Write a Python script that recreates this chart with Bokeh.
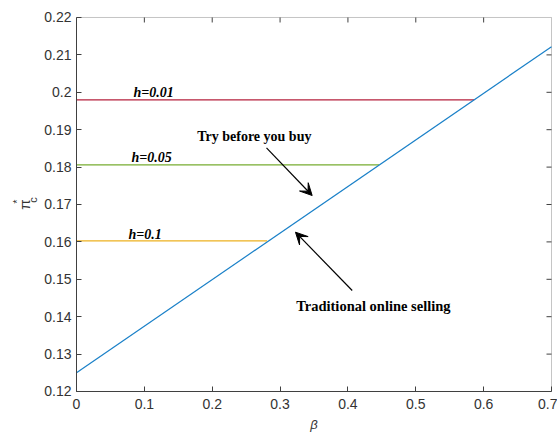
from math import pi
from bokeh.plotting import figure
from bokeh.models import FixedTicker, Label, Arrow, VeeHead, Range1d, BoxAnnotation
from bokeh.embed import file_html
from bokeh.resources import INLINE

# ---- data ----
beta = [0.0, 0.7]
pi_traditional = [0.125, 0.2122]
h_labels = ["h=0.01", "h=0.05", "h=0.1"]
pi_tbyb = [0.1980, 0.1806, 0.1603]
beta_end = [0.586, 0.446, 0.281]
x_ticks = [0.0, 0.1, 0.2, 0.3, 0.4, 0.5, 0.6, 0.7]
x_tick_labels = ["0", "0.1", "0.2", "0.3", "0.4", "0.5", "0.6", "0.7"]
y_ticks = [0.12, 0.13, 0.14, 0.15, 0.16, 0.17, 0.18, 0.19, 0.20, 0.21, 0.22]
y_tick_labels = ["0.12", "0.13", "0.14", "0.15", "0.16", "0.17", "0.18", "0.19", "0.2", "0.21", "0.22"]

h_colors = ["#B5213C", "#77AC30", "#EDB120"]
blue = "#1A80C8"
axis_col = "#404040"
tick_font = "Liberation Sans"
serif = "Liberation Serif"

x0, x1 = x_ticks[0], x_ticks[-1]
y0, y1 = y_ticks[0], y_ticks[-1]

# the frame covers the whole canvas; the axes box is placed inside it
p = figure(width=557, height=432, output_backend="svg", toolbar_location=None,
           x_range=Range1d(-0.11200, 0.70884), y_range=Range1d(0.109037, 0.224545),
           min_border=0, min_border_left=0, min_border_right=0,
           min_border_top=0, min_border_bottom=0)
p.background_fill_color = "white"
p.border_fill_color = "white"
p.outline_line_color = None
p.grid.visible = False

x_axis = p.below[0]
y_axis = p.left[0]
x_axis.fixed_location = y0
x_axis.bounds = (x0, x1)
x_axis.ticker = FixedTicker(ticks=x_ticks)
x_axis.major_label_overrides = {t: l for t, l in zip(x_ticks, x_tick_labels)}
x_axis.major_label_standoff = 8
y_axis.fixed_location = x0
y_axis.bounds = (y0, y1)
y_axis.ticker = FixedTicker(ticks=y_ticks)
y_axis.major_label_overrides = {t: l for t, l in zip(y_ticks, y_tick_labels)}
y_axis.major_label_standoff = 5

for ax in [x_axis, y_axis]:
    ax.axis_line_color = axis_col
    ax.axis_line_width = 1
    ax.major_tick_line_color = axis_col
    ax.major_tick_in = 5
    ax.major_tick_out = 0
    ax.minor_tick_line_color = None
    ax.major_label_text_font = tick_font
    ax.major_label_text_font_size = "14px"
    ax.major_label_text_color = "#333333"

# box around the axes
p.add_layout(BoxAnnotation(left=x0, right=x1, bottom=y0, top=y1, fill_color=None,
                           line_color=axis_col, line_width=1, level="underlay"))
# inward ticks on the top and right edges of the box
p.ray(x=x_ticks[1:-1], y=[y1] * (len(x_ticks) - 2), length=5, length_units="screen",
      angle=-pi / 2, line_color=axis_col, line_width=1)
p.ray(x=[x1] * (len(y_ticks) - 2), y=y_ticks[1:-1], length=5, length_units="screen",
      angle=pi, line_color=axis_col, line_width=1)

# lines
for i in range(len(h_labels)):
    p.line([beta[0], beta_end[i]], [pi_tbyb[i], pi_tbyb[i]], line_color=h_colors[i], line_width=1.2)
p.line(beta, pi_traditional, line_color=blue, line_width=1.2)

# h labels
h_pos = [(0.084, 0.19995), (0.0811, 0.18265), (0.0766, 0.16198)]
for (lx, ly), txt in zip(h_pos, h_labels):
    p.add_layout(Label(x=lx, y=ly, text=txt, text_font=serif, text_font_style="bold italic",
                       text_font_size="14px", text_color="black", text_baseline="alphabetic"))

p.add_layout(Label(x=0.1779, y=0.18826, text="Try before you buy", text_font=serif,
                   text_font_style="bold", text_font_size="14px", text_color="black",
                   text_baseline="alphabetic"))
p.add_layout(Label(x=0.3237, y=0.14299, text="Traditional online selling", text_font=serif,
                   text_font_style="bold", text_font_size="14.5px", text_color="black",
                   text_baseline="alphabetic"))

p.add_layout(Arrow(end=VeeHead(size=12, fill_color="black", line_color="black"),
                   x_start=0.28, y_start=0.18516, x_end=0.3473, y_end=0.1724,
                   line_color="black", line_width=1.2))
p.add_layout(Arrow(end=VeeHead(size=12, fill_color="black", line_color="black"),
                   x_start=0.4063, y_start=0.147, x_end=0.3227, y_end=0.1626,
                   line_color="black", line_width=1.2))

# axis labels
p.add_layout(Label(x=0.35, y=0.11118, text="β", text_font=tick_font, text_font_style="italic",
                   text_font_size="13px", text_color="#333333", text_align="center",
                   text_baseline="middle"))
p.add_layout(Label(x=-0.07663, y=0.170, text="π", text_font=tick_font, angle=pi / 2,
                   text_font_size="15px", text_color="#333333", text_align="center",
                   text_baseline="middle"))
p.add_layout(Label(x=-0.06411, y=0.1712, text="c", text_font=tick_font, angle=pi / 2,
                   text_font_size="11px", text_color="#333333", text_align="center",
                   text_baseline="middle"))
p.add_layout(Label(x=-0.0877, y=0.1708, text="*", text_font=tick_font, angle=pi / 2,
                   text_font_size="11px", text_color="#333333", text_align="center",
                   text_baseline="middle"))

open("out.html", "w").write(file_html(p, INLINE))
